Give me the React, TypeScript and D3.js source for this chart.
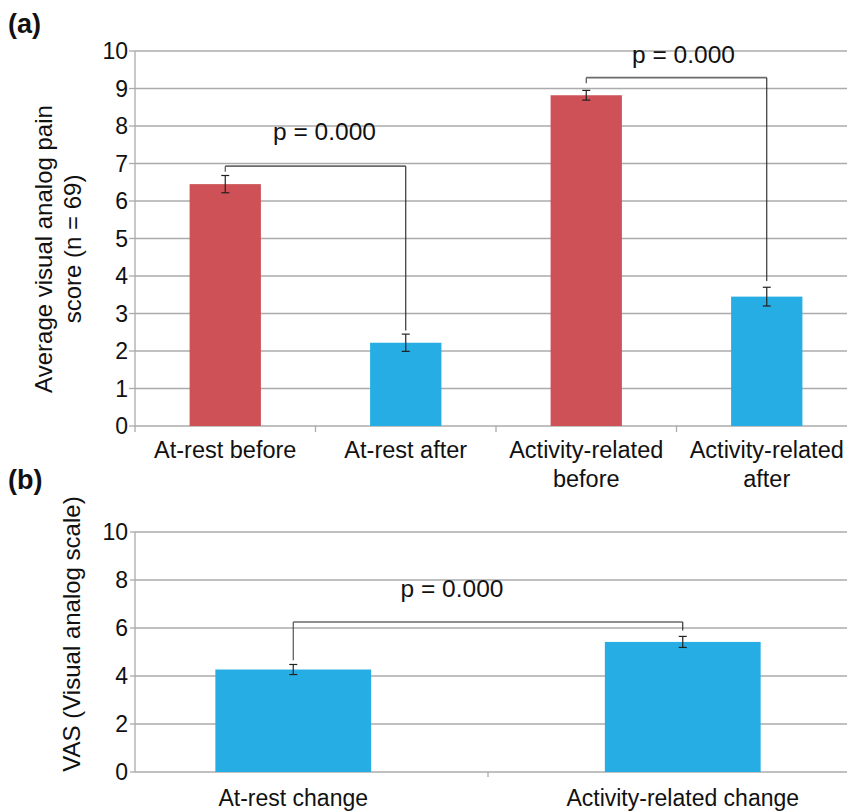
import React from "react";
import * as d3 from "d3";

const catsA = ["At-rest before", "At-rest after", "Activity-related before", "Activity-related after"];
const labelsA = [["At-rest before"], ["At-rest after"], ["Activity-related", "before"], ["Activity-related", "after"]];
const valuesA = [6.45, 2.22, 8.82, 3.45];
const errA = [0.23, 0.23, 0.13, 0.25];
const colorsA = ["#CD5156", "#26ADE3", "#CD5156", "#26ADE3"];
const ticksA = [0, 1, 2, 3, 4, 5, 6, 7, 8, 9, 10];

const catsB = ["At-rest change", "Activity-related change"];
const valuesB = [4.27, 5.42];
const errB = [0.21, 0.23];
const ticksB = [0, 2, 4, 6, 8, 10];

const FONT = "'Liberation Sans', Arial, sans-serif";
const BLUE = "#26ADE3";
const GRID = "#ABABAB";
const TXT = "#111";

export default function App() {
  // Panel A scales
  const xA = d3.scaleBand<string>().domain(catsA).range([135, 857]).padding(0);
  const yA = d3.scaleLinear().domain([0, 10]).range([426, 51]);
  const bwA = xA.bandwidth() * 0.395;
  const cA = (i: number) => (xA(catsA[i]) as number) + xA.bandwidth() / 2;

  // Panel B scales
  const xB = d3.scaleBand<string>().domain(catsB).range([98.5, 877.5]).padding(0);
  const yB = d3.scaleLinear().domain([0, 10]).range([772, 532]);
  const bwB = xB.bandwidth() * 0.4;
  const cB = (i: number) => (xB(catsB[i]) as number) + xB.bandwidth() / 2;

  const errBar = (cx: number, v: number, e: number, y: d3.ScaleLinear<number, number>, key: string) => (
    <g key={key} stroke="#222" strokeWidth={1.2}>
      <line x1={cx} x2={cx} y1={y(v + e)} y2={y(v - e)} />
      <line x1={cx - 4} x2={cx + 4} y1={y(v + e)} y2={y(v + e)} />
      <line x1={cx - 4} x2={cx + 4} y1={y(v - e)} y2={y(v - e)} />
    </g>
  );

  const bracket = (x1: number, x2: number, yTop: number, y1: number, y2: number, key: string) => (
    <g key={key} fill="none">
      <line x1={x1} x2={x2} y1={yTop} y2={yTop} stroke="#6a6a6a" strokeWidth={1.6} />
      <line x1={x1} x2={x1} y1={yTop} y2={y1} stroke="#444" strokeWidth={1.1} />
      <line x1={x2} x2={x2} y1={yTop} y2={y2} stroke="#222" strokeWidth={1.1} />
    </g>
  );

  return (
    <svg width={847} height={812} style={{ position: "absolute", left: 0, top: 0 }} fontFamily={FONT}>
      <rect width={847} height={812} fill="#fff" />
      {/* Panel A */}
      <text x={8} y={33} fontSize={27} fontWeight="bold" fill={TXT}>(a)</text>
      {ticksA.map((t) => (
        <g key={"ga" + t}>
          <line x1={135} x2={847} y1={yA(t)} y2={yA(t)} stroke={GRID} strokeWidth={1.3} />
          <line x1={129} x2={135} y1={yA(t)} y2={yA(t)} stroke={GRID} strokeWidth={1.3} />
          <text x={128} y={yA(t)} dy="0.36em" fontSize={23} textAnchor="end" fill={TXT}>{t}</text>
        </g>
      ))}
      <line x1={135} x2={135} y1={yA(10)} y2={yA(0)} stroke={GRID} strokeWidth={1.3} />
      {catsA.map((c, i) => (
        <line key={"ta" + i} x1={xA(c) as number} x2={xA(c) as number} y1={yA(0)} y2={yA(0) + 6} stroke={GRID} strokeWidth={1.3} />
      ))}
      {catsA.map((c, i) => (
        <rect key={"ba" + i} x={cA(i) - bwA / 2} y={yA(valuesA[i])} width={bwA} height={yA(0) - yA(valuesA[i])} fill={colorsA[i]} />
      ))}
      {catsA.map((c, i) => errBar(cA(i), valuesA[i], errA[i], yA, "ea" + i))}
      {bracket(cA(0), cA(1), yA(6.93), yA(6.78), yA(2.55), "bra1")}
      {bracket(cA(2), cA(3), yA(9.29), yA(9.14), yA(3.87), "bra2")}
      <text x={(cA(0) + cA(1)) / 2 + 9} y={yA(7.63)} fontSize={24.5} textAnchor="middle" fill={TXT}>p = 0.000</text>
      <text x={(cA(2) + cA(3)) / 2 + 7} y={yA(9.68)} fontSize={24.5} textAnchor="middle" fill={TXT}>p = 0.000</text>
      {labelsA.map((lines, i) => (
        <text key={"la" + i} x={cA(i)} y={458} fontSize={23.5} textAnchor="middle" fill={TXT}>
          {lines.map((l, j) => (
            <tspan key={j} x={cA(i)} dy={j === 0 ? 0 : 29}>{l}</tspan>
          ))}
        </text>
      ))}
      <text transform={`translate(52,249) rotate(-90)`} fontSize={24} textAnchor="middle" fill={TXT}>
        Average visual analog pain
      </text>
      <text transform={`translate(81,249) rotate(-90)`} fontSize={24} textAnchor="middle" fill={TXT}>
        score (n = 69)
      </text>

      {/* Panel B */}
      <text x={8} y={489} fontSize={27} fontWeight="bold" fill={TXT}>(b)</text>
      {ticksB.map((t) => (
        <g key={"gb" + t}>
          <line x1={135} x2={847} y1={yB(t)} y2={yB(t)} stroke={GRID} strokeWidth={1.3} />
          <line x1={130} x2={135} y1={yB(t)} y2={yB(t)} stroke={GRID} strokeWidth={1.3} />
          <text x={128} y={yB(t)} dy="0.36em" fontSize={23} textAnchor="end" fill={TXT}>{t}</text>
        </g>
      ))}
      <line x1={135} x2={135} y1={yB(10)} y2={yB(0)} stroke={GRID} strokeWidth={1.3} />
      <line x1={xB(catsB[1]) as number} x2={xB(catsB[1]) as number} y1={yB(0)} y2={yB(0) + 5} stroke={GRID} strokeWidth={1.3} />
      {catsB.map((c, i) => (
        <rect key={"bb" + i} x={cB(i) - bwB / 2} y={yB(valuesB[i])} width={bwB} height={yB(0) - yB(valuesB[i])} fill={BLUE} />
      ))}
      {catsB.map((c, i) => errBar(cB(i), valuesB[i], errB[i], yB, "eb" + i))}
      {bracket(cB(0), cB(1), yB(6.25), yB(4.66), yB(5.9), "brb")}
      <text x={(cB(0) + cB(1)) / 2 - 36} y={yB(7.3)} fontSize={24.5} textAnchor="middle" fill={TXT}>p = 0.000</text>
      {catsB.map((c, i) => (
        <text key={"lb" + i} x={cB(i)} y={806} fontSize={23} textAnchor="middle" fill={TXT}>{c}</text>
      ))}
      <text transform={`translate(80,634) rotate(-90)`} fontSize={24} textAnchor="middle" fill={TXT}>
        VAS (Visual analog scale)
      </text>
    </svg>
  );
}
